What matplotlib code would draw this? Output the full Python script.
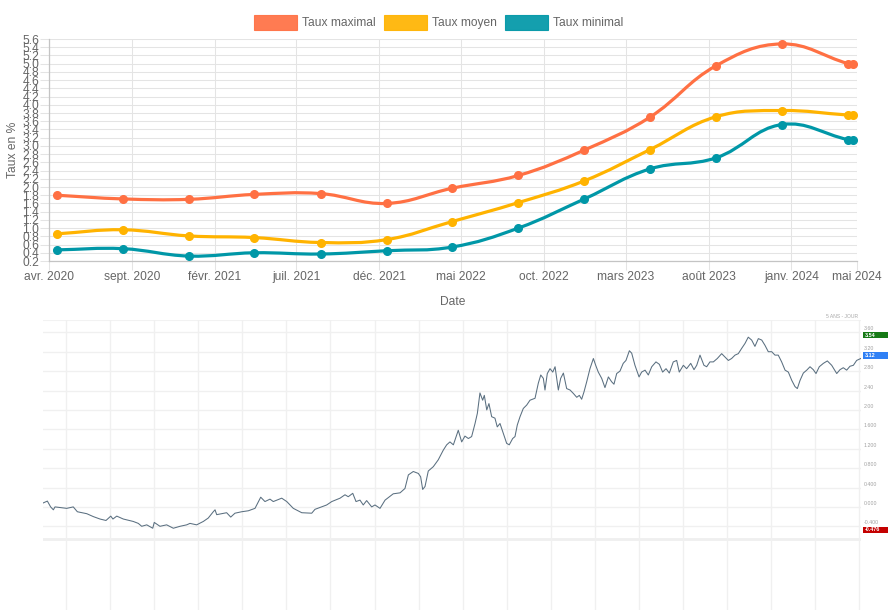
import matplotlib
matplotlib.use('Agg')
import matplotlib.pyplot as plt
import matplotlib.dates as mdates
from matplotlib.path import Path
from matplotlib.patches import PathPatch, Rectangle
import numpy as np
import datetime as dt

plt.rcParams['font.family'] = ['Liberation Sans', 'DejaVu Sans']

# ---------------- data: top chart ----------------
series_names = ['Taux maximal', 'Taux moyen', 'Taux minimal']
series_colors = ['#ff7043', '#ffb300', '#0097a7']
point_dates = ['2020-04-15', '2020-08-15', '2020-12-15', '2021-04-15', '2021-08-15',
               '2021-12-15', '2022-04-15', '2022-08-15', '2022-12-15', '2023-04-15',
               '2023-08-15', '2023-12-15', '2024-04-15', '2024-04-23']
taux_max = [1.80, 1.71, 1.70, 1.82, 1.84, 1.60, 1.97, 2.28, 2.90, 3.70, 4.95, 5.48, 5.00, 5.00]
taux_moyen = [0.86, 0.96, 0.81, 0.77, 0.65, 0.72, 1.16, 1.62, 2.15, 2.91, 3.71, 3.86, 3.75, 3.75]
taux_min = [0.47, 0.50, 0.32, 0.40, 0.37, 0.45, 0.54, 1.00, 1.71, 2.44, 2.71, 3.52, 3.15, 3.15]
x_tick_dates = ['2020-04-01', '2020-09-01', '2021-02-01', '2021-07-01', '2021-12-01',
                '2022-05-01', '2022-10-01', '2023-03-01', '2023-08-01', '2024-01-01', '2024-05-01']
x_tick_labels = ['avr. 2020', 'sept. 2020', 'févr. 2021', 'juil. 2021', 'déc. 2021',
                 'mai 2022', 'oct. 2022', 'mars 2023', 'août 2023', 'janv. 2024', 'mai 2024']
y_min, y_max, y_step = 0.2, 5.6, 0.2

# ---------------- data: bottom chart (5 ans - jour) ----------------
bond_month = [0.0, 0.32, 0.56, 0.76, 0.88, 1.74, 2.22, 2.52, 3.21, 3.69, 4.18, 4.62, 4.97, 5.13, 5.41,
              5.89, 6.62, 6.99, 7.24, 7.61, 8.05, 8.16, 8.58, 9.07, 9.56, 10.05, 10.54, 10.78, 11.27,
              11.76, 12.12, 12.49, 12.62, 12.74, 13.11, 13.47, 13.77, 14.08, 14.57, 15.06, 15.55,
              15.97, 16.28, 16.65, 16.89, 17.51, 17.88, 18.36, 18.98, 19.71, 19.95, 20.44, 20.81,
              21.18, 21.79, 22.15, 22.39, 22.72, 22.96, 23.25, 23.49, 23.74, 24.11, 24.35, 24.72,
              25.09, 25.69, 26.19, 26.55, 26.80, 27.16, 27.53, 27.70, 27.85, 28.02, 28.26, 28.63,
              28.99, 29.36, 29.61, 29.85, 30.10, 30.46, 30.71, 30.95, 31.20, 31.44, 31.69, 31.86,
              32.05, 32.25, 32.37, 32.55, 32.71, 32.91, 33.15, 33.32, 33.52, 33.76, 34.01, 34.20,
              34.45, 34.62, 34.79, 34.99, 35.23, 35.48, 35.72, 36.09, 36.33, 36.51, 36.70, 36.82,
              36.99, 37.19, 37.39, 37.56, 37.80, 37.97, 38.17, 38.41, 38.66, 38.90, 39.15, 39.34,
              39.51, 39.68, 39.88, 40.12, 40.37, 40.54, 40.73, 40.98, 41.22, 41.47, 41.71, 41.88,
              42.08, 42.32, 42.56, 42.76, 43.01, 43.18, 43.42, 43.59, 43.72, 43.91, 44.16, 44.40,
              44.65, 44.96, 45.21, 45.45, 45.70, 45.94, 46.23, 46.48, 46.67, 46.97, 47.21, 47.51,
              47.75, 47.95, 48.19, 48.48, 48.68, 48.92, 49.17, 49.46, 49.78, 50.02, 50.27, 50.51,
              50.76, 51.00, 51.25, 51.49, 51.73, 51.98, 52.22, 52.47, 52.72, 52.96, 53.20, 53.45,
              53.69, 53.93, 54.18, 54.43, 54.67, 54.92, 55.16, 55.33, 55.53, 55.77, 56.02, 56.26,
              56.50, 56.70, 56.94, 57.24, 57.53, 57.85, 58.22, 58.46, 58.70, 58.95, 59.19, 59.44,
              59.68, 59.98]
bond_yield = [0.08, 0.12, 0.00, -0.06, 0.00, -0.03, 0.00, -0.10, -0.14, -0.20, -0.25, -0.28, -0.19,
              -0.25, -0.19, -0.25, -0.30, -0.34, -0.40, -0.37, -0.44, -0.32, -0.40, -0.37, -0.44,
              -0.40, -0.37, -0.34, -0.37, -0.30, -0.23, -0.10, -0.06, -0.16, -0.14, -0.12, -0.21,
              -0.13, -0.10, -0.08, -0.03, 0.20, 0.11, 0.16, 0.11, 0.18, 0.11, -0.03, -0.12, -0.13,
              -0.05, 0.00, 0.04, 0.11, 0.18, 0.25, 0.21, 0.28, 0.11, 0.14, 0.04, 0.13, 0.00, 0.04,
              -0.03, 0.14, 0.27, 0.29, 0.38, 0.66, 0.73, 0.69, 0.62, 0.36, 0.42, 0.74, 0.83, 0.97,
              1.17, 1.28, 1.34, 1.28, 1.58, 1.34, 1.46, 1.41, 1.45, 1.72, 1.93, 2.35, 2.20, 2.30,
              2.00, 2.13, 1.86, 1.83, 1.65, 1.72, 1.52, 1.31, 1.28, 1.41, 1.45, 1.69, 1.86, 2.03,
              2.10, 2.20, 2.24, 2.55, 2.72, 2.65, 2.41, 2.75, 2.85, 2.78, 2.89, 2.41, 2.65, 2.76,
              2.44, 2.41, 2.34, 2.26, 2.30, 2.22, 2.37, 2.58, 2.85, 3.06, 2.92, 2.78, 2.65, 2.46,
              2.68, 2.58, 2.53, 2.75, 2.80, 2.96, 3.02, 3.22, 3.17, 2.92, 2.78, 2.68, 2.78, 2.82,
              2.72, 2.89, 2.99, 2.94, 2.78, 2.85, 2.76, 2.99, 3.02, 2.78, 2.92, 2.85, 2.96, 2.83,
              2.92, 3.13, 2.92, 2.89, 2.99, 2.99, 3.06, 3.16, 3.09, 3.02, 3.06, 3.13, 3.16, 3.27,
              3.37, 3.50, 3.44, 3.31, 3.47, 3.44, 3.33, 3.20, 3.20, 3.13, 3.13, 2.99, 2.82, 2.78,
              2.61, 2.48, 2.44, 2.61, 2.76, 2.82, 2.89, 2.83, 2.75, 2.89, 2.96, 3.01, 2.92, 2.75,
              2.83, 2.87, 2.82, 2.90, 2.92, 3.02, 3.06]
bond_axis_labels = ['3.60', '3.20', '2.80', '2.40', '2.00', '1.600', '1.200', '0.800', '0.400',
                    '0.000', '-0.400']
bond_axis_values = [3.6, 3.2, 2.8, 2.4, 2.0, 1.6, 1.2, 0.8, 0.4, 0.0, -0.4]
bond_tags = [3.54, 3.12, -0.476]
bond_tag_labels = ['3.54', '3.12', '-0.476']
bond_tag_colors = ['#167a16', '#2f80f5', '#c40000']

# ---------------- figure ----------------
W, H = 888, 614
fig = plt.figure(figsize=(W / 100, H / 100), dpi=100)
fig.patch.set_facecolor('white')


def px_axes(l, t, r, b):
    return fig.add_axes([l / W, 1 - b / H, (r - l) / W, (b - t) / H])


TXT = '#666666'
FS = 8.64
GRID = '#e4e4e4'

# ---- top chart ----
ax = px_axes(49, 39, 857, 261)
d = lambda s: mdates.date2num(dt.datetime.strptime(s, '%Y-%m-%d'))
xs = np.array([d(s) for s in point_dates])
ax.set_xlim(d('2020-04-01'), d('2024-05-01'))
ax.set_ylim(y_min, y_max)
yt = np.round(np.arange(y_min, y_max + 1e-9, y_step), 1)
ax.set_yticks(yt)
ax.set_yticklabels([f'{v:.1f}' for v in yt])
ax.set_xticks([d(s) for s in x_tick_dates])
ax.set_xticklabels(x_tick_labels)
ax.grid(True, color=GRID, lw=0.75)
ax.set_axisbelow(True)
for s in ['top', 'right']:
    ax.spines[s].set_visible(False)
for s in ['left', 'bottom']:
    ax.spines[s].set_color('#c4c4c4')
    ax.spines[s].set_linewidth(0.9)
ax.tick_params(axis='both', length=6.2, width=0.75, color=GRID, labelsize=FS, labelcolor=TXT)
ax.tick_params(axis='x', pad=1.2)
ax.tick_params(axis='y', pad=1.0)
ax.set_ylabel('Taux en %', fontsize=FS, color=TXT, labelpad=2.5)
ax.set_xlabel('Date', fontsize=FS, color=TXT, labelpad=9.5)


def spline_patch(ax, xv, yv, color, t=0.4):
    P = ax.transData.transform(np.column_stack([xv, yv]))
    n = len(P)
    cp_prev, cp_next = [], []
    for i in range(n):
        prev = P[max(i - 1, 0)]
        cur = P[i]
        nxt = P[min(i + 1, n - 1)]
        d01 = np.hypot(*(cur - prev))
        d12 = np.hypot(*(nxt - cur))
        tot = d01 + d12
        s01 = d01 / tot if tot > 0 else 0
        s12 = d12 / tot if tot > 0 else 0
        cp_prev.append(cur - t * s01 * (nxt - prev))
        cp_next.append(cur + t * s12 * (nxt - prev))
    verts = [P[0]]
    codes = [Path.MOVETO]
    for i in range(1, n):
        verts += [cp_next[i - 1], cp_prev[i], P[i]]
        codes += [Path.CURVE4] * 3
    verts = ax.transData.inverted().transform(np.array(verts))
    return PathPatch(Path(verts, codes), facecolor='none', edgecolor=color, lw=2.3,
                     transform=ax.transData, zorder=2, capstyle='round', joinstyle='round')


for vals, col in zip([taux_max, taux_moyen, taux_min], series_colors):
    ax.add_patch(spline_patch(ax, xs, vals, col))
    ax.plot(xs, vals, 'o', ms=5.5, color=col, zorder=3, clip_on=False)

# legend
leg_x = [254, 384, 505]
for name, col, lx in zip(series_names, series_colors, leg_x):
    fig.add_artist(Rectangle((lx / W, 1 - 30 / H), 43 / W, 15 / H, transform=fig.transFigure,
                             facecolor=col, edgecolor=col, lw=0.8, alpha=0.92))
    fig.text((lx + 48) / W, 1 - 25.8 / H, name, fontsize=FS, color=TXT, va='baseline', ha='left')

# ---- bottom chart ----
bx = px_axes(43, 320, 861, 610)
bx.set_xlim(0, 60)
bx.set_ylim(-2.126, 3.854)
bx.set_xticks(1.69 + 3.233 * np.arange(19))
bx.set_yticks(bond_axis_values)
bx.grid(True, color='#f0f0f0', lw=1.0)
bx.set_axisbelow(True)
bx.tick_params(length=0, labelleft=False, labelbottom=False)
for s in bx.spines.values():
    s.set_visible(False)
bx.axhline(3.854, color='#f2f2f2', lw=1.5, zorder=0)
bx.axhline(-0.656, color='#efefef', lw=2.0, zorder=0)
bx.plot(bond_month, bond_yield, color='#5a6f80', lw=0.75, zorder=3)

trans = bx.get_yaxis_transform()
for lab, v in zip(bond_axis_labels, bond_axis_values):
    bx.text(1.0035, v + 0.02, lab, transform=trans, fontsize=3.8, color='#a0a0a0',
            ha='left', va='bottom', clip_on=False)
for lab, v, col in zip(bond_tag_labels, bond_tags, bond_tag_colors):
    bx.add_patch(Rectangle((1.0025, v - 0.065), 0.0305, 0.13, transform=trans,
                           facecolor=col, edgecolor='none', clip_on=False, zorder=5))
    bx.text(1.0045, v, lab, transform=trans, fontsize=3.9, color='white', fontweight='bold',
            ha='left', va='center', clip_on=False, zorder=6)
fig.text(826 / W, 1 - 316 / H, '5 ANS - JOUR', fontsize=3.6, color='#a8a8a8', va='center', ha='left')

fig.savefig('out.png', dpi=100, facecolor='white')
